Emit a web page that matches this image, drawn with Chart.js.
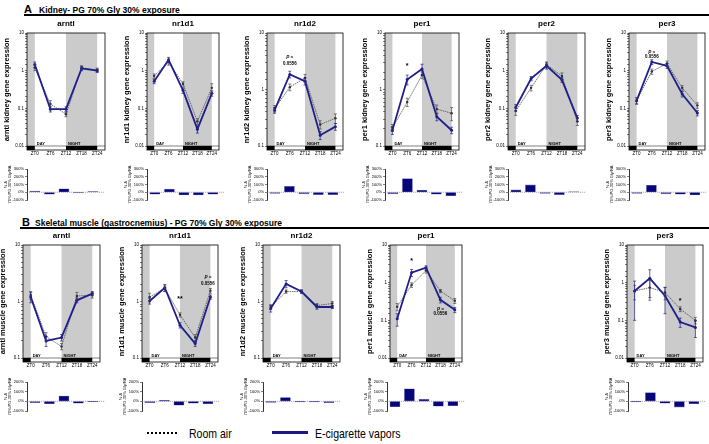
<!DOCTYPE html>
<html><head><meta charset="utf-8">
<script src="https://cdn.jsdelivr.net/npm/chart.js@4.4.1/dist/chart.umd.min.js"></script>
<style>
body{margin:0;width:709px;height:444px;position:relative;background:#fff;overflow:hidden;font-family:'Liberation Sans',Arial,sans-serif}
canvas{position:absolute}
.t{position:absolute;white-space:nowrap;color:#000;line-height:1}
.lg{position:absolute;white-space:nowrap;font-family:'Liberation Sans',Arial,sans-serif;font-size:13px;line-height:15px;color:#000;transform:scaleX(0.81);transform-origin:0 0}
</style></head><body>
<div class="t" style="left:24px;top:4px;font-weight:bold;font-size:11px">A</div>
<div class="t" style="left:39px;top:6px;font-weight:bold;font-size:8.5px">Kidney- PG 70% Gly 30% exposure</div>
<div style="position:absolute;left:24px;top:14px;width:685px;height:2px;background:#000"></div>
<div class="t" style="left:22px;top:217px;font-weight:bold;font-size:11px">B</div>
<div class="t" style="left:35px;top:219px;font-weight:bold;font-size:8.5px">Skeletal muscle (gastrocnemius) - PG 70% Gly 30% exposure</div>
<div style="position:absolute;left:20px;top:227px;width:689px;height:2px;background:#000"></div>
<div style="position:absolute;left:147px;top:432px;width:30px;border-top:2px dotted #000"></div>
<div class="lg" style="left:189px;top:426px">Room air</div>
<div style="position:absolute;left:272px;top:431px;width:36px;height:3px;background:#1a1a80"></div>
<div class="lg" style="left:315px;top:426px">E-cigarette vapors</div>
<script>
// ---- shared axes ----
const zt = [0, 6, 12, 18, 24];
const ztLabels = ['ZT0', 'ZT6', 'ZT12', 'ZT18', 'ZT24'];
const pctTicksA = [300, 200, 100, 0, -100];
const pctTicksB = [200, 100, 0, -100];

// ---- A: Kidney ----
const kArntlAir = [1.2, 0.13, 0.07, 1.2, 1.05];
const kArntlAirSem = [0.2, 0.03, 0.01, 0.15, 0.12];
const kArntlEcig = [1.45, 0.095, 0.095, 1.15, 1.0];
const kArntlEcigSem = [0.25, 0.015, 0.015, 0.15, 0.1];
const kArntlPct = [15, -25, 45, -10, 10];

const kNr1d1Air = [0.72, 1.7, 0.45, 0.045, 0.35];
const kNr1d1AirSem = [0.1, 0.3, 0.06, 0.008, 0.1];
const kNr1d1Ecig = [0.52, 1.95, 0.3, 0.028, 0.25];
const kNr1d1EcigSem = [0.07, 0.3, 0.05, 0.006, 0.04];
const kNr1d1Pct = [-25, 40, -35, -35, -25];

const kNr1d2Air = [0.46, 1.1, 1.6, 0.24, 0.31];
const kNr1d2AirSem = [0.06, 0.15, 0.25, 0.04, 0.06];
const kNr1d2Ecig = [0.43, 1.85, 1.4, 0.155, 0.22];
const kNr1d2EcigSem = [0.05, 0.25, 0.2, 0.025, 0.03];
const kNr1d2Pct = [-15, 75, -20, -30, -30];

const kPer1Air = [0.21, 0.6, 1.8, 0.45, 0.38];
const kPer1AirSem = [0.03, 0.1, 0.25, 0.08, 0.1];
const kPer1Ecig = [0.19, 1.5, 2.3, 0.33, 0.19];
const kPer1EcigSem = [0.03, 0.3, 0.5, 0.05, 0.025];
const kPer1Pct = [-20, 175, 25, -25, -45];

const kPer2Air = [0.085, 0.35, 1.45, 0.72, 0.045];
const kPer2AirSem = [0.02, 0.06, 0.25, 0.15, 0.01];
const kPer2Ecig = [0.105, 0.62, 1.35, 0.57, 0.055];
const kPer2EcigSem = [0.02, 0.08, 0.25, 0.08, 0.01];
const kPer2Pct = [30, 95, -15, -30, 5];

const kPer3Air = [0.16, 0.95, 1.55, 0.35, 0.12];
const kPer3AirSem = [0.03, 0.15, 0.25, 0.05, 0.02];
const kPer3Ecig = [0.16, 1.7, 1.35, 0.24, 0.075];
const kPer3EcigSem = [0.03, 0.25, 0.2, 0.04, 0.012];
const kPer3Pct = [-15, 90, -20, -25, -35];

// ---- B: Skeletal muscle ----
const mArntlAir = [1.3, 0.24, 0.16, 1.25, 1.3];
const mArntlAirSem = [0.2, 0.04, 0.02, 0.2, 0.15];
const mArntlEcig = [1.2, 0.2, 0.23, 1.05, 1.38];
const mArntlEcigSem = [0.25, 0.04, 0.03, 0.1, 0.12];
const mArntlPct = [-15, -25, 55, -20, -3];

const mNr1d1Air = [1.2, 1.7, 0.58, 0.23, 1.55];
const mNr1d1AirSem = [0.2, 0.2, 0.05, 0.03, 0.15];
const mNr1d1Ecig = [1.02, 1.75, 0.38, 0.18, 1.2];
const mNr1d1EcigSem = [0.12, 0.25, 0.04, 0.02, 0.1];
const mNr1d1Pct = [-15, 10, -40, -20, -25];

const mNr1d2Air = [0.8, 1.5, 1.5, 0.85, 0.92];
const mNr1d2AirSem = [0.08, 0.1, 0.1, 0.07, 0.08];
const mNr1d2Ecig = [0.75, 2.05, 1.5, 0.8, 0.8];
const mNr1d2EcigSem = [0.1, 0.3, 0.1, 0.07, 0.05];
const mNr1d2Pct = [-10, 40, -5, -5, -15];

const mPer1Air = [0.23, 0.87, 2.1, 0.6, 0.33];
const mPer1AirSem = [0.05, 0.12, 0.3, 0.06, 0.05];
const mPer1Ecig = [0.11, 1.85, 2.5, 0.35, 0.19];
const mPer1EcigSem = [0.04, 0.4, 0.3, 0.06, 0.03];
const mPer1Pct = [-55, 130, 20, -50, -45];

const mPer3Air = [0.6, 0.74, 0.55, 0.2, 0.1];
const mPer3AirSem = [0.25, 0.4, 0.2, 0.03, 0.02];
const mPer3Ecig = [0.6, 1.3, 0.45, 0.09, 0.065];
const mPer3EcigSem = [0.5, 0.9, 0.3, 0.025, 0.03];
const mPer3Pct = [-5, 90, -20, -60, -25];

const F = "'Liberation Sans', Arial, sans-serif";
Chart.defaults.font.family = F;
Chart.defaults.color = '#000';

const AIR_C = '#4a4a4a', ECIG_C = '#1f1f8c';

function addCanvas(x, y, w, h) {
  const c = document.createElement('canvas');
  c.width = w; c.height = h;
  c.style.left = x + 'px'; c.style.top = y + 'px';
  c.style.width = w + 'px'; c.style.height = h + 'px';
  document.body.appendChild(c);
  return c;
}

const bgPlugin = {
  id: 'bg',
  beforeDatasetsDraw(c) {
    const { ctx, chartArea: a, scales: { x } } = c;
    const px = v => x.getPixelForValue(v);
    ctx.save();
    ctx.fillStyle = '#cbcbcb';
    ctx.fillRect(a.left, a.top, px(0) - a.left, a.bottom - a.top);
    ctx.fillRect(px(12), a.top, px(24) - px(12), a.bottom - a.top);
    const bh = 4, y0 = a.bottom;
    ctx.fillStyle = '#000';
    ctx.fillRect(a.left, y0, px(0) - a.left, bh);
    ctx.fillRect(px(12), y0, px(24) - px(12), bh);
    ctx.strokeStyle = '#000'; ctx.lineWidth = 0.8;
    ctx.strokeRect(a.left, a.top, a.right - a.left, a.bottom + bh - a.top);
    ctx.beginPath(); ctx.moveTo(a.left, y0); ctx.lineTo(a.right, y0); ctx.lineWidth = 0.5; ctx.stroke();
    ctx.font = 'bold 4px ' + F; ctx.textBaseline = 'bottom'; ctx.textAlign = 'left';
    ctx.fillText('DAY', px(0) + 2, y0 - 0.5);
    ctx.fillText('NIGHT', px(12) + 2, y0 - 0.5);
    // subplot title
    ctx.font = 'bold 8px ' + F; ctx.textAlign = 'center'; ctx.textBaseline = 'middle';
    ctx.fillText(c.options.plugins.ptitle, (a.left + a.right) / 2, a.top - 9);
    ctx.restore();
  }
};

const errPlugin = {
  id: 'err',
  afterDatasetsDraw(c) {
    const { ctx, scales: { x, y } } = c;
    const ymin = y.min;
    ctx.save();
    c.data.datasets.forEach(ds => {
      ctx.strokeStyle = ds.borderColor; ctx.lineWidth = 0.7;
      ds.data.forEach((p, i) => {
        const e = ds.err[i];
        const xp = x.getPixelForValue(p.x);
        const hi = y.getPixelForValue(p.y + e);
        const lo = y.getPixelForValue(Math.max(p.y - e, ymin * 1.02));
        ctx.beginPath();
        ctx.moveTo(xp, hi); ctx.lineTo(xp, lo);
        ctx.moveTo(xp - 1.5, hi); ctx.lineTo(xp + 1.5, hi);
        ctx.moveTo(xp - 1.5, lo); ctx.lineTo(xp + 1.5, lo);
        ctx.stroke();
      });
    });
    const notes = c.options.plugins.notes || [];
    ctx.fillStyle = '#000'; ctx.textAlign = 'center'; ctx.textBaseline = 'middle';
    notes.forEach(n => {
      ctx.font = (n.italic ? 'italic ' : '') + 'bold ' + n.size + 'px ' + F;
      ctx.fillText(n.text, x.getPixelForValue(n.x), y.getPixelForValue(n.y));
    });
    ctx.restore();
  }
};

function isPow10(v) { const l = Math.log10(v); return Math.abs(l - Math.round(l)) < 1e-6; }

function lineChart(p) {
  const AX = 27, TOP = 22, BOT = 14, RP = 4;
  const w = p.R - p.L + AX + RP, h = p.B - p.T + TOP + BOT;
  const cv = addCanvas(p.L - AX, p.T - TOP, w, h);
  new Chart(cv, {
    type: 'line',
    data: {
      datasets: [
        { label: 'Room air', data: zt.map((x, i) => ({ x, y: p.air[i] })), err: p.airSem,
          borderColor: AIR_C, borderWidth: 0.8, borderDash: [1.5, 0.8], pointRadius: 1.2,
          pointBackgroundColor: '#222', pointBorderWidth: 0, order: 2 },
        { label: 'E-cigarette vapors', data: zt.map((x, i) => ({ x, y: p.ecig[i] })), err: p.ecigSem,
          borderColor: ECIG_C, borderWidth: 1.8, pointRadius: 1.5,
          pointBackgroundColor: ECIG_C, pointBorderWidth: 0, order: 1 }
      ]
    },
    options: {
      responsive: false, animation: false, devicePixelRatio: 1,
      layout: { padding: { left: 0, right: RP, top: TOP, bottom: 0 } },
      plugins: {
        legend: { display: false }, tooltip: { enabled: false }, title: { display: false },
        ptitle: p.title,
        notes: p.notes || []
      },
      scales: {
        x: {
          type: 'linear', min: -3, max: 27,
          afterBuildTicks: s => { s.ticks = zt.map(v => ({ value: v })); },
          afterFit: s => { s.height = BOT; },
          grid: { display: false, drawTicks: false }, border: { display: false },
          ticks: { font: { size: 4.5 }, color: '#000', padding: 5, maxRotation: 0, autoSkip: false,
                   callback: (v) => ztLabels[zt.indexOf(v)] }
        },
        y: {
          type: 'logarithmic', min: p.yMin, max: p.yMax,
          afterFit: s => { s.width = AX; },
          grid: { drawOnChartArea: false, tickLength: 2, color: '#000', lineWidth: 0.5 },
          border: { display: true, color: '#000', width: 1 },
          ticks: { autoSkip: false, font: { size: 4.5 }, color: '#000', padding: 1,
                   callback: v => isPow10(v) ? String(Number(v.toPrecision(1))) : '' },
          title: { display: true, text: p.yTitle, color: '#000', font: { size: 7.5, weight: 'bold' }, padding: { top: 2, bottom: 0 } }
        }
      }
    },
    plugins: [bgPlugin, errPlugin]
  });
}

const zeroPlugin = {
  id: 'zero',
  beforeDatasetsDraw(c) {
    const { ctx, chartArea: a, scales: { y } } = c;
    const yp = y.getPixelForValue(0);
    ctx.save(); ctx.strokeStyle = '#777'; ctx.lineWidth = 0.6; ctx.setLineDash([1.2, 0.8]);
    ctx.beginPath(); ctx.moveTo(a.left, yp); ctx.lineTo(a.right + 2, yp); ctx.stroke(); ctx.restore();
  }
};

function barChart(p) {
  const AX = 27, PT = 4, PB = 4, RP = 4, W = 76;
  const w = W + AX + RP, h = p.B - p.T + PT + PB;
  const cv = addCanvas(p.L - AX, p.T - PT, w, h);
  new Chart(cv, {
    type: 'bar',
    data: { datasets: [{ data: p.pct.map((v, i) => ({ x: i, y: v })), backgroundColor: '#06067a',
      borderColor: '#7070b8', borderWidth: 0.6, borderSkipped: false, barThickness: 10 }] },
    options: {
      responsive: false, animation: false, devicePixelRatio: 1,
      layout: { padding: { left: 0, right: RP, top: PT, bottom: PB } },
      plugins: { legend: { display: false }, tooltip: { enabled: false } },
      scales: {
        x: { type: 'linear', min: -0.55, max: 4.7, offset: false, display: false },
        y: {
          min: p.ticks[p.ticks.length - 1], max: p.ticks[0],
          afterFit: s => { s.width = AX; },
          afterBuildTicks: s => { s.ticks = p.ticks.map(v => ({ value: v })); },
          grid: { drawOnChartArea: false, tickLength: 2, color: '#000', lineWidth: 0.5 },
          border: { display: true, color: '#000', width: 0.8 },
          ticks: { font: { size: 4 }, color: '#000', padding: 1, autoSkip: false, callback: v => v + '%' },
          title: { display: true, text: ['% \u0394', '70% PG-30% Gly/RA'], color: '#000', font: { size: 4 }, padding: { top: 3, bottom: 0 } }
        }
      }
    },
    plugins: [zeroPlugin]
  });
}

const PN = (x, y) => [{ x, y: y * 1.3, text: 'P =', size: 4.5, italic: true }, { x, y, text: '0.0556', size: 4.5 }];
const STAR = (x, y, t) => [{ x, y, text: t || '*', size: 7 }];

// Panel layout (positions only)
const panelsA = [
  { L: 27, R: 105, yMin: 0.01, title: 'arntl', yTitle: 'arntl kidney gene expression', air: kArntlAir, airSem: kArntlAirSem, ecig: kArntlEcig, ecigSem: kArntlEcigSem, pct: kArntlPct },
  { L: 147, R: 219, yMin: 0.01, title: 'nr1d1', yTitle: 'nr1d1 kidney gene expression', air: kNr1d1Air, airSem: kNr1d1AirSem, ecig: kNr1d1Ecig, ecigSem: kNr1d1EcigSem, pct: kNr1d1Pct },
  { L: 267, R: 343, yMin: 0.1, title: 'nr1d2', yTitle: 'nr1d2 kidney gene expression', air: kNr1d2Air, airSem: kNr1d2AirSem, ecig: kNr1d2Ecig, ecigSem: kNr1d2EcigSem, pct: kNr1d2Pct, notes: PN(6, 2.8) },
  { L: 385, R: 459, yMin: 0.1, title: 'per1', yTitle: 'per1 kidney gene expression', air: kPer1Air, airSem: kPer1AirSem, ecig: kPer1Ecig, ecigSem: kPer1EcigSem, pct: kPer1Pct, notes: STAR(6, 2.6) },
  { L: 508, R: 585, yMin: 0.01, title: 'per2', yTitle: 'per2 kidney gene expression', air: kPer2Air, airSem: kPer2AirSem, ecig: kPer2Ecig, ecigSem: kPer2EcigSem, pct: kPer2Pct },
  { L: 629, R: 705, yMin: 0.01, title: 'per3', yTitle: 'per3 kidney gene expression', air: kPer3Air, airSem: kPer3AirSem, ecig: kPer3Ecig, ecigSem: kPer3EcigSem, pct: kPer3Pct, notes: PN(6, 2.3) }
];
const panelsB = [
  { L: 23, R: 100, bL: 27, yMin: 0.1, title: 'arntl', yTitle: 'arntl muscle gene expression', air: mArntlAir, airSem: mArntlAirSem, ecig: mArntlEcig, ecigSem: mArntlEcigSem, pct: mArntlPct },
  { L: 142, R: 218, bL: 142, yMin: 0.1, title: 'nr1d1', yTitle: 'nr1d1 muscle gene expression', air: mNr1d1Air, airSem: mNr1d1AirSem, ecig: mNr1d1Ecig, ecigSem: mNr1d1EcigSem, pct: mNr1d1Pct, notes: STAR(12, 1.12, '**').concat(PN(23, 2.05)) },
  { L: 263, R: 340, bL: 263, yMin: 0.1, title: 'nr1d2', yTitle: 'nr1d2 muscle gene expression', air: mNr1d2Air, airSem: mNr1d2AirSem, ecig: mNr1d2Ecig, ecigSem: mNr1d2EcigSem, pct: mNr1d2Pct },
  { L: 390, R: 462, bL: 387, yMin: 0.01, title: 'per1', yTitle: 'per1 muscle gene expression', air: mPer1Air, airSem: mPer1AirSem, ecig: mPer1Ecig, ecigSem: mPer1EcigSem, pct: mPer1Pct, notes: STAR(6, 3.7).concat(PN(18, 0.15)) },
  { L: 627, R: 703, bL: 628, yMin: 0.01, title: 'per3', yTitle: 'per3 muscle gene expression', air: mPer3Air, airSem: mPer3AirSem, ecig: mPer3Ecig, ecigSem: mPer3EcigSem, pct: mPer3Pct, notes: STAR(18, 0.33) }
];

panelsA.forEach(p => {
  lineChart(Object.assign({}, p, { T: 33, B: 146, yMax: 10 }));
  barChart({ L: p.L, T: 169, B: 200, pct: p.pct, ticks: pctTicksA });
});
panelsB.forEach(p => {
  lineChart(Object.assign({}, p, { T: 245, B: 358, yMax: 10 }));
  barChart({ L: p.bL, T: 382, B: 411, pct: p.pct, ticks: pctTicksB });
});
</script>
</body></html>
